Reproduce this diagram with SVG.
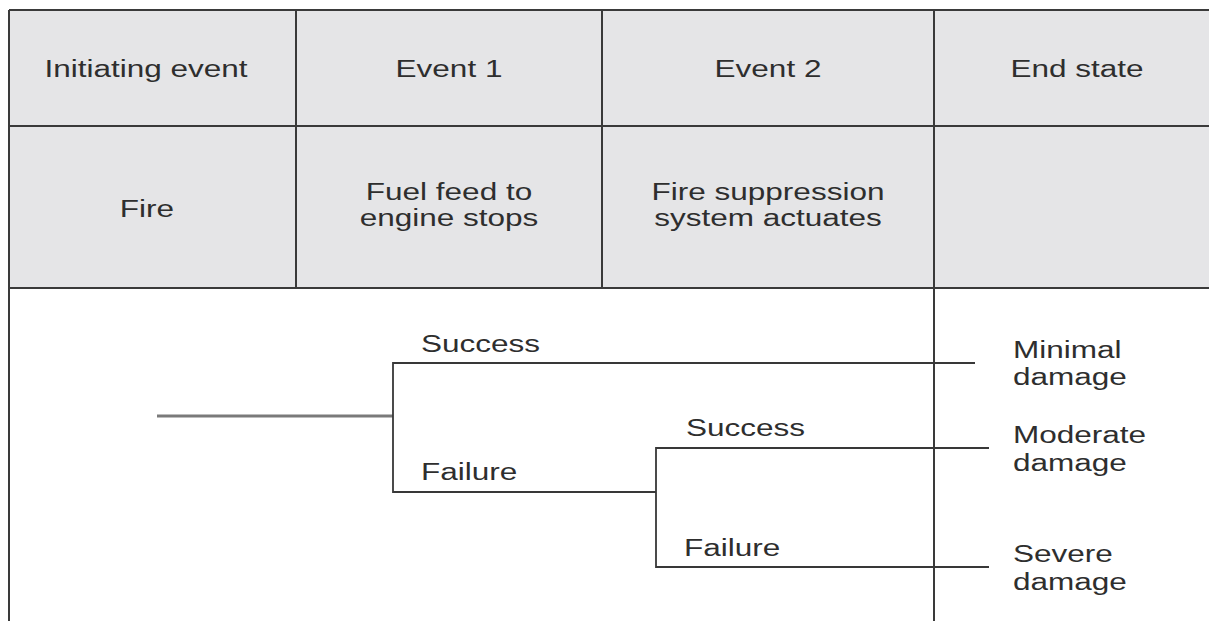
<svg xmlns="http://www.w3.org/2000/svg" width="1209" height="621" viewBox="0 0 1209 621">
<style>
  .cell { fill: #e5e5e7; stroke: none; }
  .grid { stroke: #3a3a3a; stroke-width: 2; fill: none; }
  .conn { stroke: #383838; stroke-width: 1.8; fill: none; }
  .conn-light { stroke: #7a7a7a; stroke-width: 3; fill: none; }
  text { font-family: "Liberation Sans", Arial, sans-serif; font-size: 23px; fill: #2e2e2e; }
  .c { text-anchor: middle; }
  .l { text-anchor: start; }
</style>
<rect x="0" y="0" width="1209" height="621" fill="#ffffff"/>
<g id="table">
  <rect class="cell" x="9" y="10" width="1200" height="278"/>
  <line class="grid" x1="9" y1="10" x2="1209" y2="10"/>
  <line class="grid" x1="9" y1="126" x2="1209" y2="126"/>
  <line class="grid" x1="9" y1="288" x2="1209" y2="288"/>
  <line class="grid" x1="9" y1="10" x2="9" y2="621"/>
  <line class="grid" x1="296" y1="10" x2="296" y2="288"/>
  <line class="grid" x1="602" y1="10" x2="602" y2="288"/>
  <line class="grid" x1="934" y1="10" x2="934" y2="621"/>
</g>
<g id="header-initiating"><text class="c" transform="translate(146,77) scale(1.37,1)">Initiating event</text></g>
<g id="header-event1"><text class="c" transform="translate(449,77) scale(1.37,1)">Event 1</text></g>
<g id="header-event2"><text class="c" transform="translate(768,77) scale(1.37,1)">Event 2</text></g>
<g id="header-endstate"><text class="c" transform="translate(1077,77) scale(1.37,1)">End state</text></g>
<g id="node-fire"><text class="c" transform="translate(147,217) scale(1.37,1)">Fire</text></g>
<g id="node-fuel">
  <text class="c" transform="translate(449,200) scale(1.37,1)">Fuel feed to</text>
  <text class="c" transform="translate(449,226) scale(1.37,1)">engine stops</text>
</g>
<g id="node-suppression">
  <text class="c" transform="translate(768,200) scale(1.37,1)">Fire suppression</text>
  <text class="c" transform="translate(768,226) scale(1.37,1)">system actuates</text>
</g>
<g id="connectors">
  <line class="conn-light" x1="157" y1="416" x2="393" y2="416"/>
  <polyline class="conn" points="975,363 393,363 393,492 656,492"/>
  <polyline class="conn" points="989,448 656,448 656,567 989,567"/>
</g>
<g id="label-success1"><text class="l" transform="translate(421,352) scale(1.37,1)">Success</text></g>
<g id="label-failure1"><text class="l" transform="translate(421,480) scale(1.37,1)">Failure</text></g>
<g id="label-success2"><text class="l" transform="translate(686,436) scale(1.37,1)">Success</text></g>
<g id="label-failure2"><text class="l" transform="translate(684,556) scale(1.37,1)">Failure</text></g>
<g id="end-minimal">
  <text class="l" transform="translate(1013,358) scale(1.37,1)">Minimal</text>
  <text class="l" transform="translate(1013,385) scale(1.37,1)">damage</text>
</g>
<g id="end-moderate">
  <text class="l" transform="translate(1013,443) scale(1.37,1)">Moderate</text>
  <text class="l" transform="translate(1013,471) scale(1.37,1)">damage</text>
</g>
<g id="end-severe">
  <text class="l" transform="translate(1013,562) scale(1.37,1)">Severe</text>
  <text class="l" transform="translate(1013,590) scale(1.37,1)">damage</text>
</g>
</svg>
